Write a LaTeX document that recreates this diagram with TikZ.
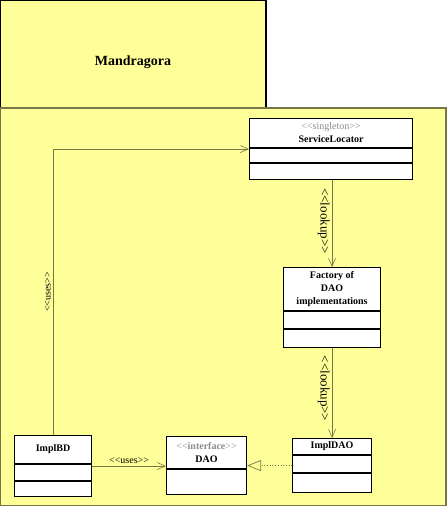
\documentclass[tikz,border=0pt]{standalone}
\usepackage{fontspec}
\setmainfont{Liberation Serif}
\usepackage{xcolor}
\usepackage{tikz}
\usetikzlibrary{calc, arrows.meta, positioning}
\definecolor{umlyellow}{RGB}{255, 255, 153}
\definecolor{oliveline}{RGB}{118, 118, 72}
\definecolor{stereogray}{RGB}{140, 140, 140}
\newcommand{\stereotype}[1]{\textcolor{stereogray}{<{}<#1>{}>}}

\begin{document}
\begin{tikzpicture}[x=1pt, y=-1pt, font=\fontsize{10}{13}\selectfont,
    umlclass/.style={draw=black, line width=1.1pt, fill=white, inner sep=0pt, anchor=north west},
    classname/.style={align=center, inner sep=0pt},
    dep/.style={draw=oliveline, line width=0.6pt, -{Straight Barb[length=8pt, width=7pt]}},
    realize/.style={draw=oliveline, line width=0.7pt, dotted, -{Triangle[open, length=14pt, width=11pt]}},
    lbl/.style={inner sep=2pt},
    lookuplbl/.style={lbl, font=\fontsize{13}{15}\selectfont}]
    \useasboundingbox (0, 0) rectangle (447, 507);

    % package
    \draw[black, line width=1.1pt, fill=umlyellow] (0.5, 0.5) rectangle (266, 108);
    \draw[oliveline, line width=1.3pt, fill=umlyellow] (0.5, 108) rectangle (446, 505.5);
    \node[font=\fontsize{14}{16}\selectfont\bfseries] (pkgname) at (133, 62) {Mandragora};

    % classes
    \node[umlclass, minimum width=163pt, minimum height=61pt] (locator) at (249, 118) {};
    \node[umlclass, minimum width=97pt, minimum height=80pt] (factory) at (283, 267) {};
    \node[umlclass, minimum width=77pt, minimum height=61pt] (implbd) at (14, 435) {};
    \node[umlclass, minimum width=80pt, minimum height=58pt] (dao) at (166, 436) {};
    \node[umlclass, minimum width=79pt, minimum height=54pt] (impldao) at (292, 438) {};

    \foreach \cls/\off in {locator/30, locator/45, factory/44, factory/62, implbd/29, implbd/46, dao/33, impldao/17, impldao/35}
        \draw[line width=1.1pt] ($(\cls.north west)+(0, \off)$) -- ($(\cls.north east)+(0, \off)$);

    \node[classname] (locatorname) at ($(locator.north)+(0, 15)$) {\stereotype{singleton}\\\textbf{ServiceLocator}};
    \node[classname] (factoryname) at ($(factory.north)+(0, 22)$) {\textbf{Factory of}\\\textbf{DAO}\\\textbf{implementations}};
    \node[classname] (implbdname) at ($(implbd.north)+(0, 14.5)$) {\textbf{ImplBD}};
    \node[classname] (daoname) at ($(dao.north)+(0, 16.5)$) {\stereotype{\textbf{interface}}\\\textbf{DAO}};
    \node[classname] (impldaoname) at ($(impldao.north)+(0, 8.5)$) {\textbf{ImplDAO}};

    % connectors
    \draw[dep] (factory.north |- locator.south) -- (factory.north) node[lookuplbl, pos=0.47, rotate=-90, below] {<{}<lookup>{}>};
    \draw[dep] (impldao.north |- factory.south) -- (impldao.north) node[lookuplbl, pos=0.45, rotate=-90, below] {<{}<lookup>{}>};
    \draw[dep] (implbd.north) |- (locator.west) node[lbl, pos=0.25, rotate=90, above] {<{}<uses>{}>};
    \draw[dep] (implbd.east) -- (implbd.east -| dao.west) node[lbl, midway, above] {<{}<uses>{}>};
    \draw[realize] (impldao.west) -- (impldao.west -| dao.east);
\end{tikzpicture}
\end{document}
